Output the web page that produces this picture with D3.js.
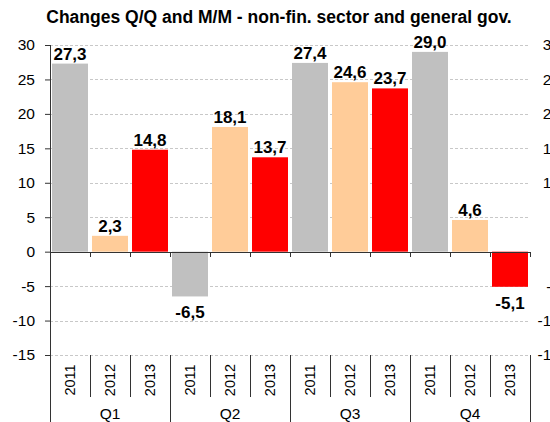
<!DOCTYPE html>
<html>
<head>
<meta charset="utf-8">
<script src="https://cdn.jsdelivr.net/npm/d3@7"></script>
<style>
  body { margin: 0; background: #fff; }
  svg { display: block; font-family: "Liberation Sans", Arial, sans-serif; }
</style>
</head>
<body>
<div class="chart"></div>
<script>
var quarters = ["Q1", "Q2", "Q3", "Q4"];
var years = ["2011", "2012", "2013"];
var values2011 = [27.3, -6.5, 27.4, 29.0];
var values2012 = [2.3, 18.1, 24.6, 4.6];
var values2013 = [14.8, 13.7, 23.7, -5.1];
var yTicks = [30, 25, 20, 15, 10, 5, 0, -5, -10, -15];
var colors = {"2011": "#c0c0c0", "2012": "#ffcc99", "2013": "#ff0000"};

var W = 550, H = 422;
var margin = {top: 45, right: 20, bottom: 65, left: 50},
  width = W - margin.left - margin.right,
  height = H - margin.top - margin.bottom;

var seriesByYear = {"2011": values2011, "2012": values2012, "2013": values2013};
var data = [];
quarters.forEach(function(q, qi) {
  years.forEach(function(y) {
    data.push({quarter: q, year: y, key: q + "-" + y, value: seriesByYear[y][qi]});
  });
});

var svg = d3.select(".chart").append("svg")
    .attr("width", W)
    .attr("height", H);

svg.append("text")
    .attr("x", 279)
    .attr("y", 23)
    .attr("text-anchor", "middle")
    .style("font-weight", "bold")
    .style("font-size", "17.5px")
    .text("Changes Q/Q and M/M - non-fin. sector and general gov.");

var g = svg.append("g")
    .attr("transform", "translate(" + margin.left + "," + margin.top + ")");

var x = d3.scaleBand()
    .domain(data.map(function(d) { return d.key; }))
    .range([0, width])
    .paddingInner(0.1)
    .paddingOuter(0.05);

var y = d3.scaleLinear()
    .domain([-15, 30])
    .range([height - 2, 0]);

// comma decimals, plain hyphen for minus
var fmt = function(v) { return v.toFixed(1).replace(".", ","); };
var tickFmt = function(v) { return String(v); };

// gridlines
g.selectAll(".grid")
  .data(yTicks.filter(function(t) { return t !== 0; }))
  .enter().append("line")
    .attr("x1", 0)
    .attr("x2", width)
    .attr("y1", function(d) { return Math.round(y(d)) + 0.5; })
    .attr("y2", function(d) { return Math.round(y(d)) + 0.5; })
    .attr("stroke", "#c8c8c8")
    .attr("stroke-dasharray", "3,2");

// bars
g.selectAll(".bar")
  .data(data)
  .enter().append("rect")
    .attr("x", function(d) { return x(d.key); })
    .attr("width", x.bandwidth())
    .attr("y", function(d) { return y(Math.max(0, d.value)); })
    .attr("height", function(d) { return Math.abs(y(d.value) - y(0)); })
    .attr("fill", function(d) { return colors[d.year]; });

// value labels
g.selectAll(".val")
  .data(data)
  .enter().append("text")
    .attr("x", function(d) { return x(d.key) + x.bandwidth() / 2; })
    .attr("y", function(d) { return d.value >= 0 ? y(d.value) - 4 : y(d.value) + 22; })
    .attr("text-anchor", "middle")
    .style("font-weight", "bold")
    .style("font-size", "17px")
    .text(function(d) { return fmt(d.value); });

// left axis
var yAxis = d3.axisLeft(y).tickValues(yTicks).tickFormat(tickFmt).tickSize(5).tickPadding(10);
var ya = g.append("g").call(yAxis);
ya.select(".domain").remove();
ya.selectAll("text").style("font-size", "15.5px").attr("fill", "#000");
ya.selectAll("line").attr("stroke", "#333");
g.append("line")
    .attr("x1", 0.5).attr("x2", 0.5)
    .attr("y1", y(30)).attr("y2", H - margin.top)
    .attr("stroke", "#333");

// right axis (runs past the window edge, as in the original)
var yAxisR = d3.axisRight(y).tickValues(yTicks).tickFormat(tickFmt).tickSize(0).tickPadding(0);
var yr = g.append("g")
    .attr("transform", "translate(" + (W - margin.left + 10) + ",0)")
    .call(yAxisR);
yr.select(".domain").remove();
yr.selectAll("text").style("font-size", "15.5px").attr("fill", "#000").attr("text-anchor", "end");

// zero line with ticks at slot boundaries
var slot = width / data.length;
g.append("line")
    .attr("x1", 0).attr("x2", width)
    .attr("y1", Math.round(y(0)) + 0.5).attr("y2", Math.round(y(0)) + 0.5)
    .attr("stroke", "#333");
g.selectAll(".ztick")
  .data(d3.range(data.length + 1))
  .enter().append("line")
    .attr("x1", function(i) { return Math.round(i * slot) + 0.5; })
    .attr("x2", function(i) { return Math.round(i * slot) + 0.5; })
    .attr("y1", Math.round(y(0)))
    .attr("y2", Math.round(y(0)) + 5)
    .attr("stroke", "#333");

// category axis: year separators and quarter separators
var yBase = y(-15);
g.selectAll(".sep")
  .data(d3.range(data.length + 1))
  .enter().append("line")
    .attr("x1", function(i) { return Math.round(i * slot) + 0.5; })
    .attr("x2", function(i) { return Math.round(i * slot) + 0.5; })
    .attr("y1", yBase)
    .attr("y2", function(i) { return i % 3 === 0 ? H - margin.top : yBase + 42; })
    .attr("stroke", "#333");

g.selectAll(".yr")
  .data(data)
  .enter().append("text")
    .attr("transform", function(d, i) {
      return "translate(" + ((i + 0.5) * slot + 5) + "," + (yBase + 25) + ") rotate(-90)";
    })
    .attr("text-anchor", "middle")
    .style("font-size", "14.5px")
    .text(function(d) { return d.year; });

g.selectAll(".qt")
  .data(quarters)
  .enter().append("text")
    .attr("x", function(d, i) { return (i * 3 + 1.5) * slot; })
    .attr("y", yBase + 64)
    .attr("text-anchor", "middle")
    .style("font-size", "15.5px")
    .text(function(d) { return d; });
</script>
</body>
</html>
